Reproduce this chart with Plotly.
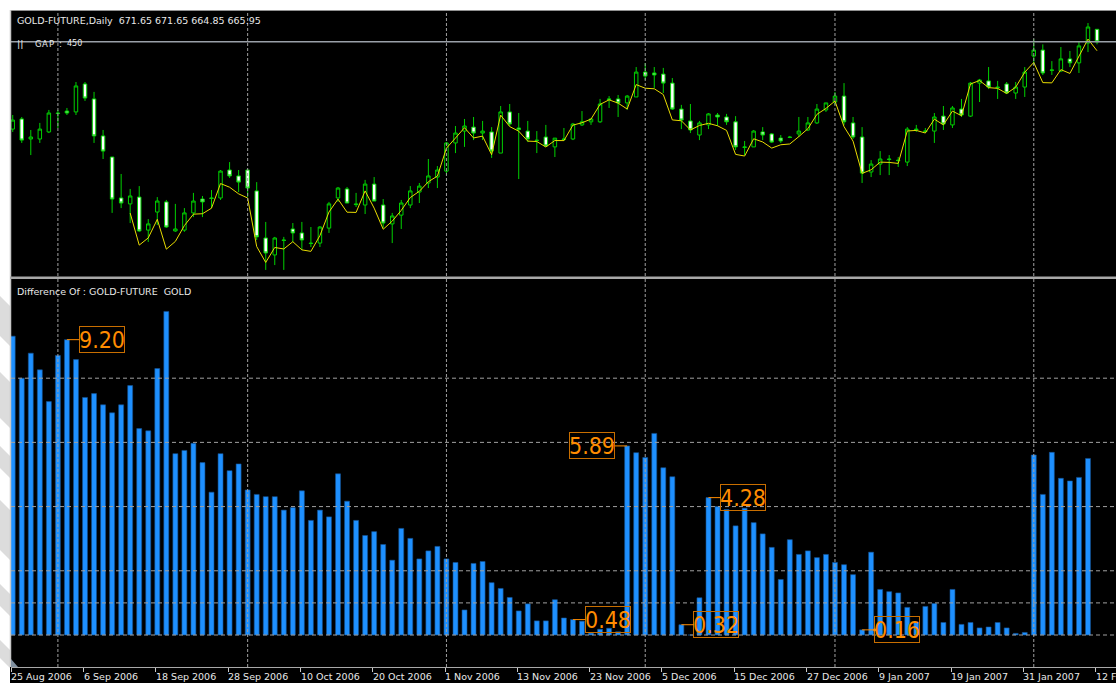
import plotly.graph_objects as go

W, H = 1116, 683

# daily OHLC of GOLD-FUTURE, bar 0 = 25 Aug 2006, bar 120 = 12 Feb 2007
opens = [626.3, 630.9, 621.8, 621.8, 625.0, 633.6, 634.5, 634.1, 646.8, 640.0,
         623.2, 613.6, 595.0, 592.3, 595.4, 580.4, 588.6, 593.2, 580.0, 580.4,
         588.2, 594.5, 595.0, 595.0, 607.7, 605.0, 607.7, 598.2, 576.8, 569.1,
         575.9, 580.9, 579.1, 574.5, 574.5, 581.3, 595.0, 599.1, 592.3, 591.8,
         601.3, 591.8, 583.2, 587.2, 591.8, 597.7, 601.8, 604.5, 607.2, 620.0,
         625.4, 627.2, 624.5, 625.0, 615.4, 634.1, 626.8, 625.4, 621.3, 622.7,
         618.2, 621.8, 621.8, 628.2, 629.6, 629.6, 640.0, 640.0, 638.2, 640.9,
         652.2, 651.8, 651.3, 647.2, 635.4, 630.0, 623.6, 628.2, 632.7, 631.8,
         629.6, 618.2, 618.2, 625.0, 624.1, 622.2, 622.7, 624.1, 625.9, 629.1,
         635.0, 638.6, 641.3, 629.1, 622.7, 606.8, 610.4, 612.7, 612.2, 611.3,
         626.3, 625.2, 625.4, 632.2, 628.2, 635.4, 632.2, 647.2, 648.2, 645.4,
         646.8, 642.7, 645.4, 659.5, 662.2, 653.2, 652.7, 658.2, 656.4, 665.4,
         671.65]
highs = [632.7, 631.8, 625.9, 629.1, 635.0, 635.0, 635.9, 647.7, 647.7, 643.2,
         625.9, 613.6, 605.9, 599.1, 600.4, 585.4, 595.4, 594.1, 592.3, 590.4,
         597.3, 595.9, 598.6, 607.7, 611.3, 607.7, 607.7, 602.2, 584.1, 577.3,
         577.3, 583.6, 584.1, 581.8, 582.2, 593.2, 600.0, 600.0, 597.3, 603.2,
         604.5, 594.5, 588.2, 594.1, 600.4, 601.8, 612.7, 609.5, 620.4, 627.7,
         630.9, 631.8, 630.0, 627.2, 636.8, 637.7, 633.6, 630.0, 625.4, 628.2,
         622.2, 626.8, 629.1, 634.5, 630.9, 640.0, 641.3, 641.8, 641.8, 654.5,
         656.3, 654.5, 654.1, 649.5, 637.3, 637.7, 630.0, 633.6, 633.6, 633.2,
         632.2, 620.9, 625.9, 627.2, 624.5, 623.6, 623.2, 631.8, 631.8, 637.7,
         638.2, 643.2, 647.2, 631.8, 627.2, 612.2, 616.3, 614.5, 613.6, 627.2,
         628.2, 626.8, 633.6, 636.8, 636.8, 640.0, 647.7, 649.1, 654.5, 648.2,
         647.7, 647.7, 654.5, 667.2, 664.8, 657.2, 663.6, 661.8, 665.9, 674.5,
         671.65]
lows = [625.0, 620.0, 614.5, 620.0, 624.5, 626.8, 632.7, 632.7, 639.1, 620.0,
        612.7, 588.2, 590.4, 583.6, 579.6, 575.0, 582.7, 581.4, 579.6, 579.6,
        586.3, 586.3, 590.4, 594.1, 604.1, 597.7, 595.4, 575.9, 562.3, 564.5,
        562.3, 575.0, 571.3, 572.7, 572.7, 579.1, 593.2, 592.7, 590.9, 587.7,
        593.6, 581.4, 574.5, 580.9, 590.4, 592.7, 599.5, 599.5, 605.4, 615.4,
        618.2, 621.3, 621.3, 613.2, 615.4, 627.7, 603.6, 620.4, 615.4, 618.2,
        613.6, 620.9, 621.3, 627.7, 628.2, 629.1, 635.9, 631.8, 635.0, 640.9,
        648.6, 645.0, 642.7, 635.0, 626.3, 624.5, 621.3, 626.3, 627.7, 628.2,
        616.8, 614.5, 618.2, 621.3, 620.0, 620.0, 622.2, 622.7, 625.4, 628.6,
        634.1, 637.3, 628.2, 621.8, 601.8, 604.5, 605.4, 605.4, 609.1, 609.5,
        625.0, 624.5, 620.0, 625.9, 626.8, 631.8, 631.8, 638.6, 644.5, 640.0,
        642.3, 640.0, 640.9, 655.4, 650.9, 650.9, 652.2, 654.5, 651.8, 661.3,
        664.85]
closes = [630.4, 621.3, 622.7, 626.3, 633.6, 633.4, 633.6, 645.9, 640.4, 623.2,
          616.3, 594.5, 592.7, 595.9, 580.0, 583.2, 593.6, 581.8, 580.9, 588.2,
          593.6, 593.2, 594.8, 607.2, 605.0, 602.2, 599.5, 577.3, 570.0, 576.8,
          575.7, 579.1, 575.9, 574.3, 581.8, 592.3, 599.5, 592.7, 592.0, 601.3,
          593.6, 583.6, 586.8, 592.7, 598.2, 600.4, 605.0, 607.7, 620.0, 624.5,
          627.7, 624.5, 625.4, 616.3, 634.1, 628.6, 626.1, 621.8, 621.1, 618.6,
          622.2, 621.6, 628.6, 629.6, 630.9, 637.7, 639.8, 638.2, 641.3, 652.2,
          650.4, 650.9, 647.2, 635.4, 630.4, 625.9, 629.1, 633.2, 631.8, 629.6,
          618.2, 618.0, 625.4, 623.6, 620.4, 620.9, 622.5, 625.4, 629.1, 635.4,
          638.2, 641.3, 629.6, 622.7, 606.3, 610.4, 612.7, 612.5, 612.0, 626.3,
          626.1, 625.4, 631.8, 628.6, 635.9, 632.7, 647.2, 648.6, 645.4, 645.2,
          642.7, 645.4, 652.2, 662.2, 651.8, 653.0, 658.2, 656.4, 664.1, 672.7,
          665.95]

# Difference Of : GOLD-FUTURE - GOLD (last value is the live bar, not painted)
diff = [9.31, 8.00, 8.78, 8.26, 7.27, 8.71, 9.20, 8.58, 7.40, 7.52,
        7.17, 6.92, 7.17, 7.77, 6.43, 6.36, 8.30, 10.08, 5.65, 5.75,
        5.97, 5.37, 4.45, 5.65, 5.12, 5.33, 4.52, 4.38, 4.31, 4.31,
        3.89, 3.97, 4.49, 3.57, 3.89, 3.68, 5.02, 4.17, 3.57, 3.10,
        3.22, 2.82, 2.33, 3.32, 3.01, 2.37, 2.62, 2.76, 2.37, 2.26,
        0.78, 2.23, 2.29, 1.63, 1.45, 1.17, 0.75, 0.97, 0.44, 0.44,
        1.10, 0.53, 0.48, 0.43, 0.06, 0.18, 0.21, 0.10, 5.89, 5.68,
        5.53, 6.28, 5.21, 4.93, 0.32, 0.00, 1.16, 4.28, 4.00, 3.91,
        3.40, 3.95, 3.50, 3.15, 2.73, 1.73, 2.97, 2.51, 2.62, 2.41,
        2.51, 2.26, 2.19, 1.88, 0.16, 2.58, 1.42, 1.35, 1.31, 0.86,
        0.40, 0.89, 0.98, 0.39, 1.42, 0.33, 0.39, 0.22, 0.25, 0.39,
        0.22, 0.05, 0.08, 5.61, 4.38, 5.69, 4.88, 4.80, 4.91, 5.50,
        4.05]
spot_start = 13  # GOLD history begins here on the chart

tick_bars = [0, 8, 16, 24, 32, 40, 48, 56, 64, 72, 80, 88, 96, 104, 112, 120]
tick_labels = ["25 Aug 2006", "6 Sep 2006", "18 Sep 2006", "28 Sep 2006",
               "10 Oct 2006", "20 Oct 2006", "1 Nov 2006", "13 Nov 2006",
               "23 Nov 2006", "5 Dec 2006", "15 Dec 2006", "27 Dec 2006",
               "9 Jan 2007", "19 Jan 2007", "31 Jan 2007", "12 Feb 2007"]
vgrid_bars = [5, 26, 48, 70, 91, 113]
hgrid_levels = [0, 1, 2, 4, 6, 8]

label_bars = [6, 62, 68, 74, 77, 94]
label_sides = [1, 1, -1, 1, 1, 1]
label_dot = [False, False, False, False, False, True]

n = len(closes)
idx = list(range(n))
spot = [None if i < spot_start else round(closes[i] - diff[i], 2) for i in idx]


def px_x(x):
    return x / W


def px_y(y):
    return 1 - y / H


GRID = "#a0a0a0"
ORANGE = "#ff8c00"
TEXT = "#e8e8e8"
FONT = "DejaVu Sans"

fig = go.Figure()

fig.add_trace(go.Candlestick(
    x=idx, open=opens, high=highs, low=lows, close=closes,
    increasing=dict(line=dict(color="#00d000", width=1), fillcolor="black"),
    decreasing=dict(line=dict(color="#00d000", width=1), fillcolor="white"),
    whiskerwidth=0, xaxis="x", yaxis="y", showlegend=False,
))
fig.add_trace(go.Scatter(
    x=idx, y=spot, mode="lines", line=dict(color="#e8dc00", width=1),
    xaxis="x", yaxis="y", showlegend=False, connectgaps=False,
))
fig.add_trace(go.Bar(
    x=idx[:-1], y=diff[:-1], width=0.55,
    marker=dict(color="#1e90ff", line=dict(color="#15508f", width=0.6)),
    xaxis="x", yaxis="y2", showlegend=False,
))

fig.update_layout(
    width=W, height=H, autosize=False,
    margin=dict(l=0, r=0, t=0, b=0, pad=0),
    paper_bgcolor="black", plot_bgcolor="black",
    boxgap=0.45, bargap=0.4,
    font=dict(family=FONT, size=10, color=TEXT),
    xaxis=dict(
        domain=[px_x(11), 1], range=[-0.19, 122.1], anchor="y2",
        rangeslider=dict(visible=False),
        showgrid=False, zeroline=False,
        tickmode="array", tickvals=[b - 0.15 for b in tick_bars],
        showticklabels=False, ticks="outside", ticklen=4, tickcolor="#c8c8c8",
        showline=True, linecolor="#a8a8a8", linewidth=1,
    ),
    yaxis=dict(
        domain=[px_y(276), px_y(11)], range=[559.53, 679.97],
        showgrid=False, zeroline=False, showticklabels=False,
    ),
    yaxis2=dict(
        domain=[px_y(667), px_y(279)], range=[-0.997, 11.09],
        showgrid=False, zeroline=False, showticklabels=False,
    ),
)

# dashed grid drawn over the chart, as in the terminal
for b in vgrid_bars:
    for yr in ["y domain", "y2 domain"]:
        fig.add_shape(type="line", xref="x", yref=yr, x0=b, x1=b, y0=0, y1=1,
                      line=dict(color=GRID, width=1, dash="3px,2px"), layer="above")
for lv in hgrid_levels:
    fig.add_shape(type="line", xref="x domain", yref="y2", x0=0, x1=1, y0=lv, y1=lv,
                  line=dict(color=GRID, width=1, dash="4px,3px"), layer="above")

# bid line at the last close
fig.add_shape(type="line", xref="x domain", yref="y", x0=0, x1=1,
              y0=closes[-1], y1=closes[-1], line=dict(color="#9aa0a8", width=1.5))

# window frame
fig.add_shape(type="rect", xref="paper", yref="paper", x0=0, x1=px_x(10), y0=0, y1=1,
              fillcolor="white", line_width=0, layer="above")
fig.add_shape(type="rect", xref="paper", yref="paper", x0=0, x1=1, y0=px_y(10), y1=1,
              fillcolor="white", line_width=0, layer="above")
# faint watermark stripes showing in the left margin
for y0, y1 in [(296, 346), (372, 428), (446, 478), (500, 560), (584, 616), (640, 668)]:
    fig.add_shape(type="path", xref="paper", yref="paper",
                  path=(f"M 0,{px_y(y0)} L {px_x(10)},{px_y(y0 + 10)} "
                        f"L {px_x(10)},{px_y(y1)} L 0,{px_y(y1 - 10)} Z"),
                  fillcolor="#dcdcdc", line_width=0, layer="above")
fig.add_shape(type="line", xref="paper", yref="paper", x0=px_x(10), x1=1,
              y0=px_y(10.5), y1=px_y(10.5), line=dict(color="#909090", width=1), layer="above")
fig.add_shape(type="line", xref="paper", yref="paper", x0=px_x(10.5), x1=px_x(10.5),
              y0=px_y(667), y1=px_y(10), line=dict(color="#c8c8c8", width=1.5), layer="above")
fig.add_shape(type="line", xref="paper", yref="paper", x0=px_x(10), x1=1,
              y0=px_y(277.8), y1=px_y(277.8), line=dict(color="#a8a8a8", width=2.5), layer="above")
fig.add_shape(type="path", xref="paper", yref="paper",
              path=f"M {px_x(11)},{px_y(667)} L {px_x(11)},{px_y(659)} L {px_x(18)},{px_y(667)} Z",
              fillcolor="#8090a0", line_width=0, layer="above")

# date labels, left-aligned on their tick like the terminal does
for b, lab in zip(tick_bars, tick_labels):
    fig.add_annotation(x=b - 0.15, y=px_y(676), xref="x", yref="paper", text=lab,
                       showarrow=False, xanchor="left", yanchor="middle", xshift=-2,
                       font=dict(family=FONT, size=9.5, color=TEXT))

# header texts
title = f"GOLD-FUTURE,Daily\u00a0\u00a0{opens[-1]:.2f} {highs[-1]:.2f} {lows[-1]:.2f} {closes[-1]:.2f}"
header = [
    (15, 20, title, 9.5),
    (15, 43.5, "||", 9.5),
    (33, 43.5, "G", 8.5),
    (40, 43.5, "A", 8.5),
    (46.5, 43.5, "P", 8.5),
    (57, 43.5, ":", 8.5),
    (65, 43.5, "450", 8),
    (15, 291.5, "Difference Of : GOLD-FUTURE\u00a0\u00a0GOLD", 9.5),
]
for x, y, txt, sz in header:
    fig.add_annotation(x=px_x(x), y=px_y(y), xref="paper", yref="paper", text=txt,
                       showarrow=False, xanchor="left", yanchor="middle",
                       font=dict(family=FONT, size=sz, color=TEXT))

# value labels on the histogram
for b, side, dot in zip(label_bars, label_sides, label_dot):
    fig.add_annotation(
        x=b, y=diff[b], xref="x", yref="y2", text=f"{diff[b]:.2f}",
        showarrow=True, arrowhead=0, arrowwidth=1, arrowcolor=ORANGE,
        arrowside="end+start" if dot else "end", startarrowhead=6, startarrowsize=0.8,
        ax=35 * side, ay=0, standoff=0, startstandoff=0,
        width=44, height=25, borderpad=0, borderwidth=1, bordercolor="#c86e00",
        font=dict(family="DejaVu Sans Condensed, DejaVu Sans", size=23, color=ORANGE),
    )

# the page body has a default margin; remove it so the figure fills the window
fig.write_html("out.html", config={"displayModeBar": False},
               post_script="document.body.style.margin='0';")
